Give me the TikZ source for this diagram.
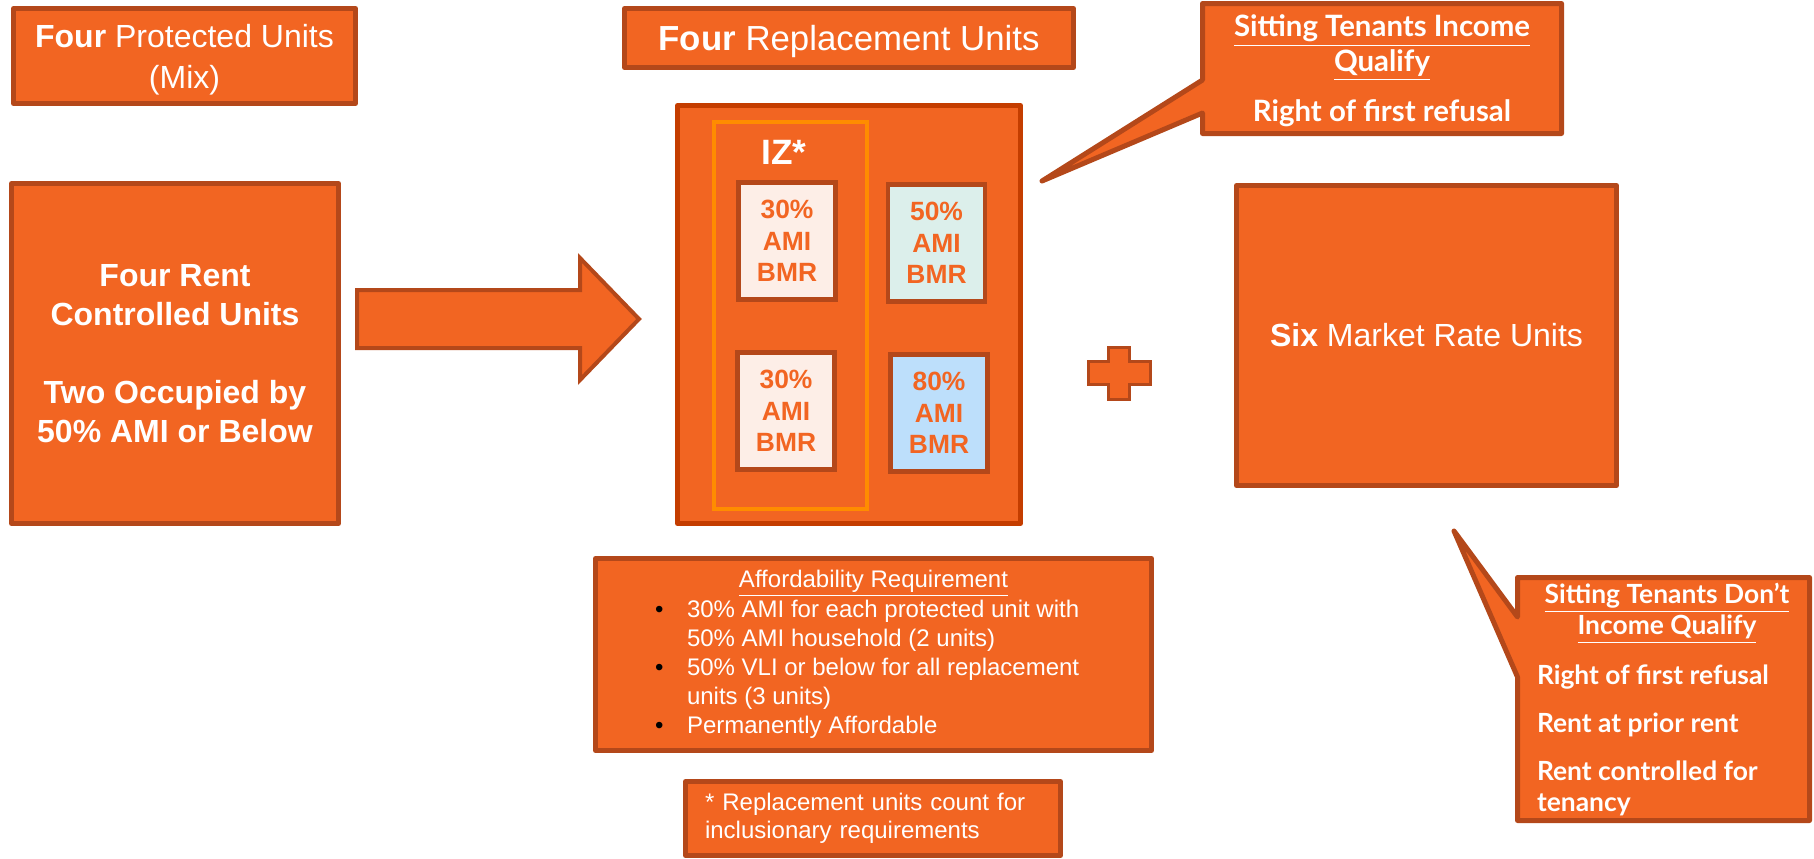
\documentclass[tikz,border=0pt]{standalone}
\usepackage{fontspec}
\setmainfont{Liberation Sans}
\newfontfamily\latofont{Lato}
\usetikzlibrary{positioning,backgrounds}

\definecolor{orangefill}{HTML}{F26522}
\definecolor{orangeedge}{HTML}{B4481A}
\definecolor{rededge}{HTML}{C43D00}
\definecolor{izline}{HTML}{FF8C00}
\definecolor{pinkfill}{HTML}{FDEEE7}
\definecolor{mintfill}{HTML}{DCEFEB}
\definecolor{bluefill}{HTML}{BDDFFB}

\tikzset{
  basic/.style   = {draw=orangeedge, fill=orangefill, line width=2.5pt, line join=round},
  textbox/.style = {basic, text=white, align=center, inner sep=0pt, outer sep=0pt,
                    font=\fontsize{16}{20.5}\selectfont},
  bmr/.style     = {draw=orangeedge, line width=2.2pt, text=orangefill, align=center,
                    inner sep=0pt, minimum width=48.5pt, minimum height=58.5pt,
                    font=\fontsize{13.2}{15.75}\selectfont\bfseries},
  txt/.style     = {text=white, inner sep=0pt, outer sep=0pt},
  lato/.style 2 args = {txt, font=\latofont\fontsize{#1}{#2}\selectfont\bfseries}
}

\begin{document}
\begin{tikzpicture}[x=0.5pt, y=-0.5pt]
  \useasboundingbox (0,0) rectangle (1814,858);

  % existing building, left column
  \node[textbox, text depth=0pt, minimum width=171pt, minimum height=47.5pt] (prot) at (184.5,56)
    {\textbf{Four} Protected Units\\(Mix)};
  \node[textbox, minimum width=163.5pt, minimum height=170pt,
        font=\fontsize{16}{19.5}\selectfont\bfseries] (rent) at (175,353.5)
    {Four Rent\\Controlled Units\\[19.5pt]Two Occupied by\\50\% AMI or Below};

  % block arrow
  \draw[basic, line width=2pt, line join=miter]
    (357,290) -- (580,290) -- (580,258) -- (639,319) -- (580,380) -- (580,348) -- (357,348) -- cycle;

  % replacement units
  \node[textbox, text depth=0pt, minimum width=224.5pt, minimum height=29.5pt,
        font=\fontsize{17.4}{21}\selectfont] (rep) at (849,38)
    {\textbf{Four} Replacement Units};
  \node[basic, draw=rededge, minimum width=171.5pt, minimum height=209pt] (repbox) at (849,314.5) {};
  \node[draw=izline, line width=2pt, minimum width=76.5pt, minimum height=193.5pt] (iz) at (790.5,315.5) {};
  \node[txt, font=\fontsize{17.6}{20}\selectfont\bfseries] (izlab) at (784,152) {IZ*};

  \foreach \name/\pos/\pct/\col in {u1/{787,241}/30/pinkfill, u2/{936.5,243}/50/mintfill,
                                    u3/{786,411}/30/pinkfill, u4/{939,413}/80/bluefill}
    \node[bmr, fill=\col] (\name) at (\pos) {\pct\%\\AMI\\BMR};

  % plus sign
  \coordinate (plus) at (1119,373);
  \draw[basic, line width=1.5pt, line join=miter, shift={(plus)}]
    (-31,-11.5) -- (-10.5,-11.5) -- (-10.5,-26) -- (10.5,-26) -- (10.5,-11.5) -- (31,-11.5)
    -- (31,11.5) -- (10.5,11.5) -- (10.5,26) -- (-10.5,26) -- (-10.5,11.5) -- (-31,11.5) -- cycle;

  % market rate units
  \node[textbox, minimum width=190pt, minimum height=150pt] (mkt) at (1426.5,335.5)
    {\textbf{Six} Market Rate Units};

  % callout, tenants who qualify
  \node[lato={14.7}{17.5}, align=center, text depth=0pt, minimum width=179.5pt, minimum height=65pt] (qual) at (1382,68.5)
    {\underline{Sitting Tenants Income}\\\underline{Qualify}\\[7.5pt]Right of first refusal};
  \coordinate (qualtip) at (1042,181);

  % callout, tenants who don't qualify
  \node[txt, minimum width=146pt, minimum height=121.5pt] (noqual) at (1663.5,699) {};
  \node[lato={13.2}{15.5}, align=center] (noqualhead) at (1667,613.5)
    {\underline{Sitting Tenants Don’t}\\\underline{Income Qualify}};
  \node[lato={13.2}{15.5}, align=left, anchor=west] (noquallist) at (1537,740.5)
    {Right of first refusal\\[8.5pt]Rent at prior rent\\[8.5pt]Rent controlled for\\tenancy};
  \coordinate (noqualtip) at (1454,531);

  \begin{scope}[on background layer]
    \draw[basic] (qual.north west) -- (qual.north east) -- (qual.south east) -- (qual.south west)
      -- ([yshift=10.25pt]qual.south west) -- (qualtip) -- ([yshift=-38.25pt]qual.north west) -- cycle;
    \draw[basic] (noqual.north west) -- (noqual.north east) -- (noqual.south east) -- (noqual.south west)
      -- ([yshift=-49.75pt]noqual.north west) -- (noqualtip) -- ([yshift=-19.75pt]noqual.north west) -- cycle;
  \end{scope}

  % affordability requirement
  \node[basic, minimum width=278pt, minimum height=96pt] (aff) at (873.5,654.5) {};
  \node[txt, font=\fontsize{12}{14.5}\selectfont] (affhead) at (873.5,583)
    {\underline{Affordability Requirement}};
  \node[txt, align=left, anchor=west, font=\fontsize{12}{14.5}\selectfont] (afflist) at (655,669.5)
    {\makebox[16pt][l]{\textcolor{black}{•}}30\% AMI for each protected unit with\\
     \hspace*{16pt}50\% AMI household (2 units)\\
     \makebox[16pt][l]{\textcolor{black}{•}}50\% VLI or below for all replacement\\
     \hspace*{16pt}units (3 units)\\
     \makebox[16pt][l]{\textcolor{black}{•}}Permanently Affordable};

  % footnote
  \node[textbox, text width=168pt, inner xsep=9.75pt, align=left, minimum height=37pt,
        font=\fontsize{12}{14}\selectfont] (note) at (873,818.5)
    {* Replacement units count for\\inclusionary requirements};
\end{tikzpicture}
\end{document}
